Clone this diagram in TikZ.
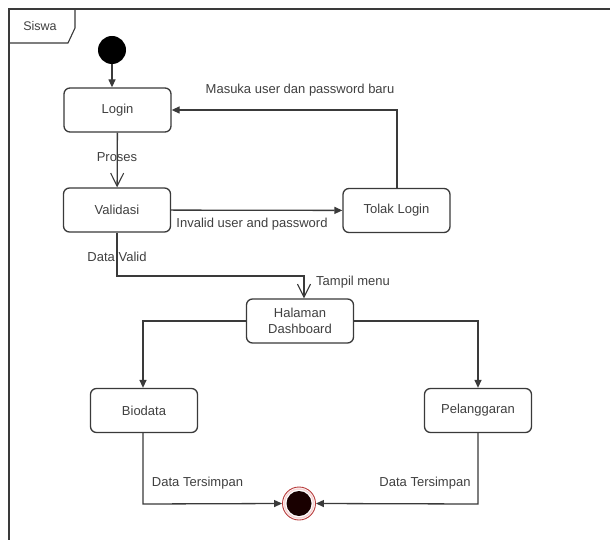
\documentclass[tikz,border=0pt]{standalone}
\usepackage{fontspec}
\setmainfont{Liberation Sans}
\usetikzlibrary{arrows.meta}
\definecolor{ink}{HTML}{3A3A3A}
\definecolor{txt}{HTML}{404040}
\definecolor{endred}{HTML}{B83A3A}
\definecolor{endpink}{HTML}{F6D6D6}
\tikzset{
  state/.style={draw=ink, line width=1.3pt, rounded corners=6pt, fill=white,
    minimum width=107pt, minimum height=44pt, align=center, inner sep=0pt,
    text=txt, font=\fontsize{13}{15.5}\selectfont},
  lbl/.style={text=txt, font=\fontsize{13}{15.5}\selectfont, inner sep=0pt},
  flow/.style={draw=ink, line width=1.3pt, -{Triangle[length=8pt,width=7pt]}},
  openflow/.style={draw=ink, line width=1.3pt, -{Straight Barb[length=13pt,width=13pt,line width=1.1pt]}},
}
\begin{document}
\begin{tikzpicture}[x=1pt,y=-1pt]
\useasboundingbox (0,0) rectangle (610,540);
\fill[white] (0,0) rectangle (610,540);

% swimlane frame with its name tab
\draw[ink, line width=1.3pt] (9,545) -- (9,9) -- (615,9);
\draw[ink, line width=1.1pt] (9,43) -- (68,43) -- (75,28) -- (75,9);
\node[lbl, font=\fontsize{12.5}{15}\selectfont] (lane) at (40,26) {Siswa};

% initial state
\node[circle, fill=black, minimum size=28pt, inner sep=0pt] (start) at (112,50) {};

% activity states
\node[state] (login) at (117.5,110) {Login};
\node[state] (valid) at (117,210) {Validasi};
\node[state] (tolak) at (396.5,210.5) {Tolak Login};
\node[state] (dash) at (300,321) {Halaman\\Dashboard};
\node[state] (bio) at (144,410.5) {Biodata};
\node[state] (pel) at (478,410.5) {Pelanggaran};

% final state
\node[circle, draw=endred, line width=0.9pt, fill=white, minimum size=33pt, inner sep=0pt] (stop) at (299,503.5) {};
\draw[endpink, line width=1.5pt] (stop.center) circle (14.5pt);
\fill[black!90!red] (stop.center) circle (12.5pt);

% transitions
\draw[flow] (start) -- (start |- login.north);
\draw[openflow] (login) -- (valid);
\node[lbl] (lproses) at (117,157) {Proses};

\draw[flow] (valid) -- (tolak);
\node[lbl] (linvalid) at (252,224.5) {Invalid user and password};

\coordinate (tk) at (397,110);
\draw[flow] (tolak.north -| tk) -- (tk) -- (login.east);
\node[lbl] (lmasuk) at (300,90) {Masuka user dan password baru};

\coordinate (dv) at (117,276);
\coordinate (dd) at (304,276);
\draw[openflow] (valid.south -| dv) -- (dv) -- (dd) -- (dd |- dash.north);
\node[lbl] (ldatavalid) at (117,257) {Data Valid};
\node[lbl, anchor=west] (ltampil) at (316,282) {Tampil menu};

\coordinate (db) at (143,321);
\draw[flow] (dash.west) -- (db) -- (db |- bio.north);
\coordinate (dp) at (478,321);
\draw[flow] (dash.east) -- (dp) -- (dp |- pel.north);

\coordinate (bs) at (143,504);
\draw[flow] (bio.south -| bs) -- (bs) -- (stop.west);
\node[lbl] (ltersimpan1) at (197.5,483) {Data Tersimpan};
\coordinate (ps) at (478,504);
\draw[flow] (pel.south -| ps) -- (ps) -- (stop.east);
\node[lbl] (ltersimpan2) at (425,483) {Data Tersimpan};
\end{tikzpicture}
\end{document}
